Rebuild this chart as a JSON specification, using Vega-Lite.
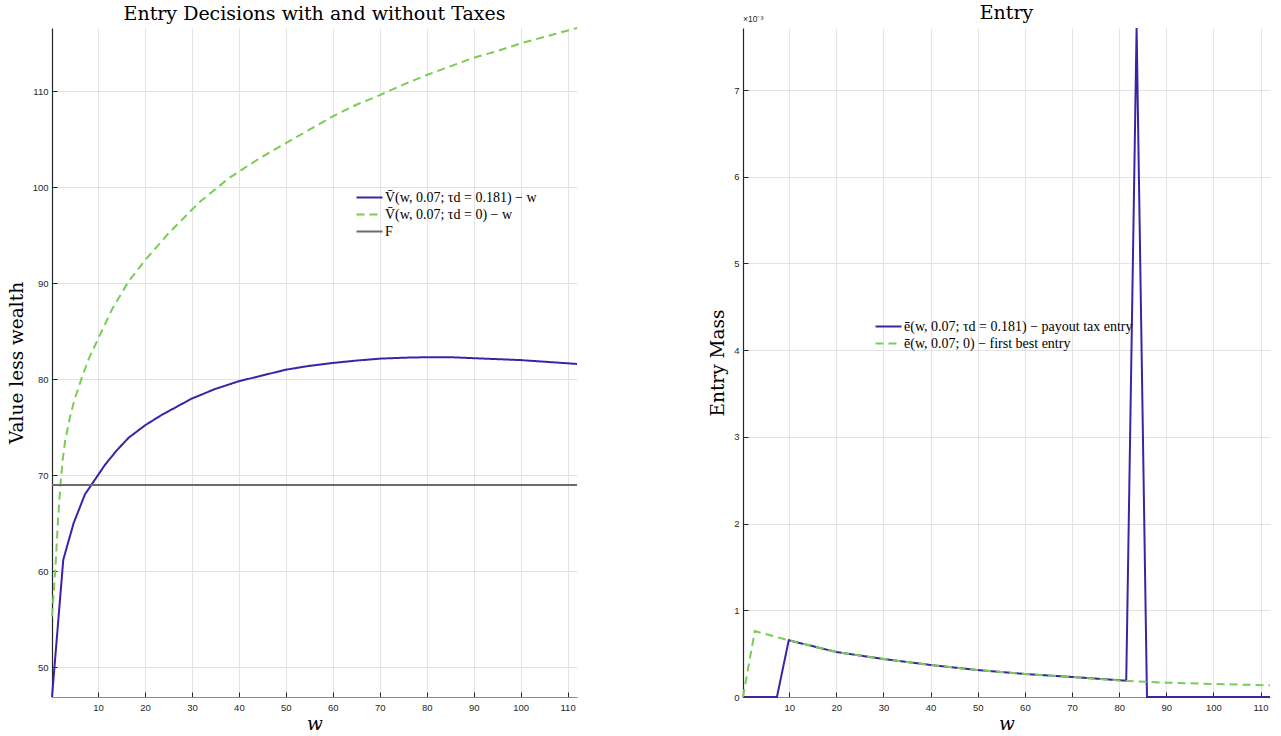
{
  "$schema": "https://vega.github.io/schema/vega-lite/v6.json",
  "background": "white",
  "padding": {"left": 7, "top": 4, "right": 0, "bottom": 0},
  "spacing": 127,
  "config": {
    "font": "Liberation Serif",
    "view": {"stroke": null},
    "axis": {
      "labelFont": "Liberation Sans",
      "labelFontSize": 9.5,
      "labelColor": "#262626",
      "titleFont": "DejaVu Serif",
      "titleFontWeight": "normal",
      "titleFontSize": 18.5,
      "titleColor": "#000000",
      "gridColor": "#e3e3e3",
      "gridWidth": 1,
      "tickColor": "#262626",
      "tickSize": -5,
      "tickWidth": 1,
      "domainWidth": 1.2
    },
    "axisX": {"domainColor": "#8a8a8a", "labelPadding": 10, "titlePadding": 3},
    "axisY": {"domainColor": "#262626", "labelPadding": 9, "titlePadding": 6},
    "title": {"font": "DejaVu Serif", "fontSize": 19, "fontWeight": "normal", "color": "#000000"},
    "legend": {
      "labelFont": "Liberation Serif",
      "labelFontSize": 14,
      "labelColor": "#000000",
      "labelLimit": 500,
      "symbolType": "M-2,0H2",
      "symbolSize": 169,
      "symbolStrokeWidth": 2,
      "labelOffset": 8,
      "rowPadding": 2,
      "padding": 0
    }
  },
  "datasets": {
    "left": [
      {"s": "V̄(w, 0.07; τd = 0.181) − w", "w": 0.2, "v": 46.9},
      {"s": "V̄(w, 0.07; τd = 0.181) − w", "w": 2.6, "v": 61.2},
      {"s": "V̄(w, 0.07; τd = 0.181) − w", "w": 4.8, "v": 65.0},
      {"s": "V̄(w, 0.07; τd = 0.181) − w", "w": 7.2, "v": 68.0},
      {"s": "V̄(w, 0.07; τd = 0.181) − w", "w": 9.0, "v": 69.3},
      {"s": "V̄(w, 0.07; τd = 0.181) − w", "w": 11.5, "v": 71.1},
      {"s": "V̄(w, 0.07; τd = 0.181) − w", "w": 14, "v": 72.6},
      {"s": "V̄(w, 0.07; τd = 0.181) − w", "w": 16.5, "v": 73.9},
      {"s": "V̄(w, 0.07; τd = 0.181) − w", "w": 20, "v": 75.2},
      {"s": "V̄(w, 0.07; τd = 0.181) − w", "w": 23.6, "v": 76.3},
      {"s": "V̄(w, 0.07; τd = 0.181) − w", "w": 27, "v": 77.2},
      {"s": "V̄(w, 0.07; τd = 0.181) − w", "w": 30, "v": 78.0},
      {"s": "V̄(w, 0.07; τd = 0.181) − w", "w": 35, "v": 79.0},
      {"s": "V̄(w, 0.07; τd = 0.181) − w", "w": 40, "v": 79.8},
      {"s": "V̄(w, 0.07; τd = 0.181) − w", "w": 45, "v": 80.4},
      {"s": "V̄(w, 0.07; τd = 0.181) − w", "w": 50, "v": 81.0},
      {"s": "V̄(w, 0.07; τd = 0.181) − w", "w": 55, "v": 81.4},
      {"s": "V̄(w, 0.07; τd = 0.181) − w", "w": 60, "v": 81.7},
      {"s": "V̄(w, 0.07; τd = 0.181) − w", "w": 65, "v": 81.95},
      {"s": "V̄(w, 0.07; τd = 0.181) − w", "w": 70, "v": 82.15},
      {"s": "V̄(w, 0.07; τd = 0.181) − w", "w": 75, "v": 82.25},
      {"s": "V̄(w, 0.07; τd = 0.181) − w", "w": 80, "v": 82.3},
      {"s": "V̄(w, 0.07; τd = 0.181) − w", "w": 85, "v": 82.3},
      {"s": "V̄(w, 0.07; τd = 0.181) − w", "w": 90, "v": 82.2},
      {"s": "V̄(w, 0.07; τd = 0.181) − w", "w": 95, "v": 82.1},
      {"s": "V̄(w, 0.07; τd = 0.181) − w", "w": 100, "v": 82.0},
      {"s": "V̄(w, 0.07; τd = 0.181) − w", "w": 106, "v": 81.8},
      {"s": "V̄(w, 0.07; τd = 0.181) − w", "w": 112, "v": 81.6},
      {"s": "V̄(w, 0.07; τd = 0) − w", "w": 0.2, "v": 55.3},
      {"s": "V̄(w, 0.07; τd = 0) − w", "w": 0.6, "v": 58.0},
      {"s": "V̄(w, 0.07; τd = 0) − w", "w": 1.0, "v": 61.0},
      {"s": "V̄(w, 0.07; τd = 0) − w", "w": 1.5, "v": 65.5},
      {"s": "V̄(w, 0.07; τd = 0) − w", "w": 2.0, "v": 69.0},
      {"s": "V̄(w, 0.07; τd = 0) − w", "w": 2.5, "v": 71.7},
      {"s": "V̄(w, 0.07; τd = 0) − w", "w": 3.0, "v": 73.6},
      {"s": "V̄(w, 0.07; τd = 0) − w", "w": 4.0, "v": 76.0},
      {"s": "V̄(w, 0.07; τd = 0) − w", "w": 5.0, "v": 77.9},
      {"s": "V̄(w, 0.07; τd = 0) − w", "w": 6.5, "v": 80.1},
      {"s": "V̄(w, 0.07; τd = 0) − w", "w": 8, "v": 82.1},
      {"s": "V̄(w, 0.07; τd = 0) − w", "w": 10, "v": 84.2},
      {"s": "V̄(w, 0.07; τd = 0) − w", "w": 13, "v": 87.3},
      {"s": "V̄(w, 0.07; τd = 0) − w", "w": 16.5, "v": 90.2},
      {"s": "V̄(w, 0.07; τd = 0) − w", "w": 20, "v": 92.4},
      {"s": "V̄(w, 0.07; τd = 0) − w", "w": 25, "v": 95.2},
      {"s": "V̄(w, 0.07; τd = 0) − w", "w": 31.7, "v": 98.5},
      {"s": "V̄(w, 0.07; τd = 0) − w", "w": 38, "v": 101.0},
      {"s": "V̄(w, 0.07; τd = 0) − w", "w": 44, "v": 102.9},
      {"s": "V̄(w, 0.07; τd = 0) − w", "w": 50, "v": 104.6},
      {"s": "V̄(w, 0.07; τd = 0) − w", "w": 55, "v": 106.0},
      {"s": "V̄(w, 0.07; τd = 0) − w", "w": 60, "v": 107.4},
      {"s": "V̄(w, 0.07; τd = 0) − w", "w": 65, "v": 108.6},
      {"s": "V̄(w, 0.07; τd = 0) − w", "w": 70, "v": 109.6},
      {"s": "V̄(w, 0.07; τd = 0) − w", "w": 75, "v": 110.7},
      {"s": "V̄(w, 0.07; τd = 0) − w", "w": 80, "v": 111.7},
      {"s": "V̄(w, 0.07; τd = 0) − w", "w": 85, "v": 112.6},
      {"s": "V̄(w, 0.07; τd = 0) − w", "w": 90, "v": 113.5},
      {"s": "V̄(w, 0.07; τd = 0) − w", "w": 95, "v": 114.2},
      {"s": "V̄(w, 0.07; τd = 0) − w", "w": 100, "v": 115.0},
      {"s": "V̄(w, 0.07; τd = 0) − w", "w": 106, "v": 115.8},
      {"s": "V̄(w, 0.07; τd = 0) − w", "w": 112, "v": 116.6},
      {"s": "F", "w": 0.2, "v": 69.0},
      {"s": "F", "w": 112, "v": 69.0}
    ],
    "right": [
      {"s": "ē(w, 0.07; τd = 0.181) − payout tax entry", "w": 0.2, "e": 0},
      {"s": "ē(w, 0.07; τd = 0.181) − payout tax entry", "w": 7.4, "e": 0},
      {"s": "ē(w, 0.07; τd = 0.181) − payout tax entry", "w": 9.9, "e": 0.000654},
      {"s": "ē(w, 0.07; τd = 0.181) − payout tax entry", "w": 20, "e": 0.000519},
      {"s": "ē(w, 0.07; τd = 0.181) − payout tax entry", "w": 30, "e": 0.000438},
      {"s": "ē(w, 0.07; τd = 0.181) − payout tax entry", "w": 40, "e": 0.000369},
      {"s": "ē(w, 0.07; τd = 0.181) − payout tax entry", "w": 50, "e": 0.000311},
      {"s": "ē(w, 0.07; τd = 0.181) − payout tax entry", "w": 60, "e": 0.000265},
      {"s": "ē(w, 0.07; τd = 0.181) − payout tax entry", "w": 70, "e": 0.000231},
      {"s": "ē(w, 0.07; τd = 0.181) − payout tax entry", "w": 81.5, "e": 0.000188},
      {"s": "ē(w, 0.07; τd = 0.181) − payout tax entry", "w": 83.7, "e": 0.007715},
      {"s": "ē(w, 0.07; τd = 0.181) − payout tax entry", "w": 85.9, "e": 0},
      {"s": "ē(w, 0.07; τd = 0.181) − payout tax entry", "w": 112, "e": 0},
      {"s": "ē(w, 0.07; 0) − first best entry", "w": 0.2, "e": 0},
      {"s": "ē(w, 0.07; 0) − first best entry", "w": 2.7, "e": 0.00076},
      {"s": "ē(w, 0.07; 0) − first best entry", "w": 9.9, "e": 0.000654},
      {"s": "ē(w, 0.07; 0) − first best entry", "w": 20, "e": 0.000519},
      {"s": "ē(w, 0.07; 0) − first best entry", "w": 30, "e": 0.000438},
      {"s": "ē(w, 0.07; 0) − first best entry", "w": 40, "e": 0.000369},
      {"s": "ē(w, 0.07; 0) − first best entry", "w": 50, "e": 0.000311},
      {"s": "ē(w, 0.07; 0) − first best entry", "w": 60, "e": 0.000265},
      {"s": "ē(w, 0.07; 0) − first best entry", "w": 70, "e": 0.000231},
      {"s": "ē(w, 0.07; 0) − first best entry", "w": 80, "e": 0.00019},
      {"s": "ē(w, 0.07; 0) − first best entry", "w": 90, "e": 0.000165},
      {"s": "ē(w, 0.07; 0) − first best entry", "w": 100, "e": 0.00015},
      {"s": "ē(w, 0.07; 0) − first best entry", "w": 112, "e": 0.000135}
    ]
  },
  "hconcat": [
    {
      "width": 525,
      "height": 669,
      "title": {"text": "Entry Decisions with and without Taxes", "offset": 0},
      "data": {"name": "left"},
      "mark": {"type": "line", "strokeWidth": 2},
      "encoding": {
        "x": {"field": "w", "type": "quantitative",
          "scale": {"domain": [0.2, 112], "nice": false, "zero": false},
          "axis": {"values": [10, 20, 30, 40, 50, 60, 70, 80, 90, 100, 110], "title": "w", "titleFontStyle": "italic"}},
        "y": {"field": "v", "type": "quantitative",
          "scale": {"domain": [46.9, 116.6], "nice": false, "zero": false},
          "axis": {"values": [50, 60, 70, 80, 90, 100, 110], "title": "Value less wealth"}},
        "color": {"field": "s", "type": "nominal",
          "scale": {"domain": ["V̄(w, 0.07; τd = 0.181) − w", "V̄(w, 0.07; τd = 0) − w", "F"], "range": ["#3d22a8", "#7acc55", "#6b6b6b"]},
          "legend": {"title": null, "orient": "none", "legendX": 310, "legendY": 162}},
        "strokeDash": {"field": "s", "type": "nominal",
          "scale": {"domain": ["V̄(w, 0.07; τd = 0.181) − w", "V̄(w, 0.07; τd = 0) − w", "F"], "range": [[1, 0], [8, 5], [1, 0]]},
          "legend": {"title": null, "orient": "none", "legendX": 310, "legendY": 162}}
      }
    },
    {
      "width": 527,
      "height": 669,
      "title": {"text": "Entry", "offset": -8},
      "layer": [
        {
          "data": {"name": "right"},
          "mark": {"type": "line", "strokeWidth": 2},
          "encoding": {
            "x": {"field": "w", "type": "quantitative",
              "scale": {"domain": [0.2, 112], "nice": false, "zero": false},
              "axis": {"values": [10, 20, 30, 40, 50, 60, 70, 80, 90, 100, 110], "title": "w", "titleFontStyle": "italic"}},
            "y": {"field": "e", "type": "quantitative",
              "scale": {"domain": [0, 0.007715], "nice": false, "zero": false},
              "axis": {"values": [0, 0.001, 0.002, 0.003, 0.004, 0.005, 0.006, 0.007], "labelExpr": "format(datum.value * 1000, 'd')", "title": "Entry Mass"}},
            "color": {"field": "s", "type": "nominal",
              "scale": {"domain": ["ē(w, 0.07; τd = 0.181) − payout tax entry", "ē(w, 0.07; 0) − first best entry"], "range": ["#3d22a8", "#7acc55"]},
              "legend": {"title": null, "orient": "none", "legendX": 138, "legendY": 291}},
            "strokeDash": {"field": "s", "type": "nominal",
              "scale": {"domain": ["ē(w, 0.07; τd = 0.181) − payout tax entry", "ē(w, 0.07; 0) − first best entry"], "range": [[1, 0], [8, 5]]},
              "legend": {"title": null, "orient": "none", "legendX": 138, "legendY": 291}}
          }
        },
        {
          "data": {"values": [{}]},
          "mark": {"type": "text", "align": "left", "baseline": "bottom", "dy": -4, "font": "Liberation Sans", "fontSize": 8.5, "color": "#262626"},
          "encoding": {
            "x": {"datum": 0.2, "type": "quantitative"},
            "y": {"datum": 0.007715, "type": "quantitative"},
            "text": {"value": "×10⁻³"}
          }
        }
      ],
      "resolve": {"scale": {"color": "independent", "strokeDash": "independent"}}
    }
  ],
  "resolve": {"scale": {"color": "independent", "strokeDash": "independent"}}
}
